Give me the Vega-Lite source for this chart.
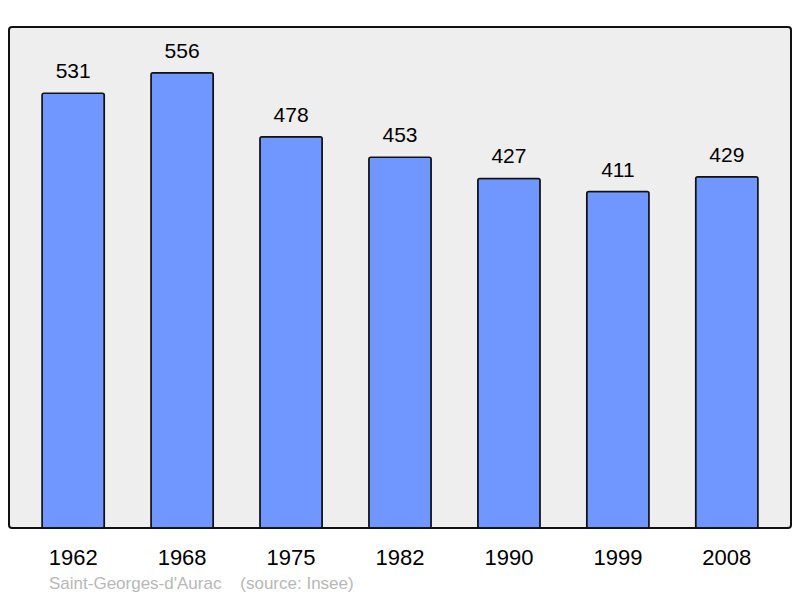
{
  "$schema": "https://vega.github.io/schema/vega-lite/v6.json",
  "width": 782,
  "height": 501,
  "autosize": "none",
  "padding": {"left": 9, "top": 27, "right": 9, "bottom": 70},
  "background": "white",
  "config": {
    "font": "Liberation Sans",
    "view": {"fill": "#eeeeee", "stroke": "#111111", "strokeWidth": 2, "cornerRadius": 3}
  },
  "title": {
    "text": "Saint-Georges-d'Aurac\u00a0\u00a0\u00a0\u00a0(source: Insee)",
    "orient": "bottom",
    "anchor": "start",
    "frame": "group",
    "dx": 40,
    "offset": 21,
    "baseline": "alphabetic",
    "fontSize": 17,
    "fontWeight": "normal",
    "color": "#b8b8b8"
  },
  "data": {
    "values": [
      {"year": "1962", "population": 531},
      {"year": "1968", "population": 556},
      {"year": "1975", "population": 478},
      {"year": "1982", "population": 453},
      {"year": "1990", "population": 427},
      {"year": "1999", "population": 411},
      {"year": "2008", "population": 429}
    ]
  },
  "encoding": {
    "x": {
      "field": "year",
      "type": "ordinal",
      "title": null,
      "scale": {"paddingInner": 0.428, "paddingOuter": 0.303},
      "axis": {
        "domain": false,
        "ticks": false,
        "tickSize": 0,
        "labelAngle": 0,
        "labelFontSize": 22,
        "labelColor": "#000000",
        "labelBaseline": "alphabetic",
        "labelPadding": 36
      }
    },
    "y": {
      "field": "population",
      "type": "quantitative",
      "scale": {"domain": [0, 612]},
      "axis": null
    }
  },
  "layer": [
    {
      "mark": {"type": "bar", "color": "#7096ff", "stroke": "#111111", "strokeWidth": 1.5, "cornerRadius": 2}
    },
    {
      "mark": {"type": "text", "dy": -15, "baseline": "alphabetic", "fontSize": 21, "color": "#000000"},
      "encoding": {"text": {"field": "population", "type": "quantitative"}}
    }
  ]
}
